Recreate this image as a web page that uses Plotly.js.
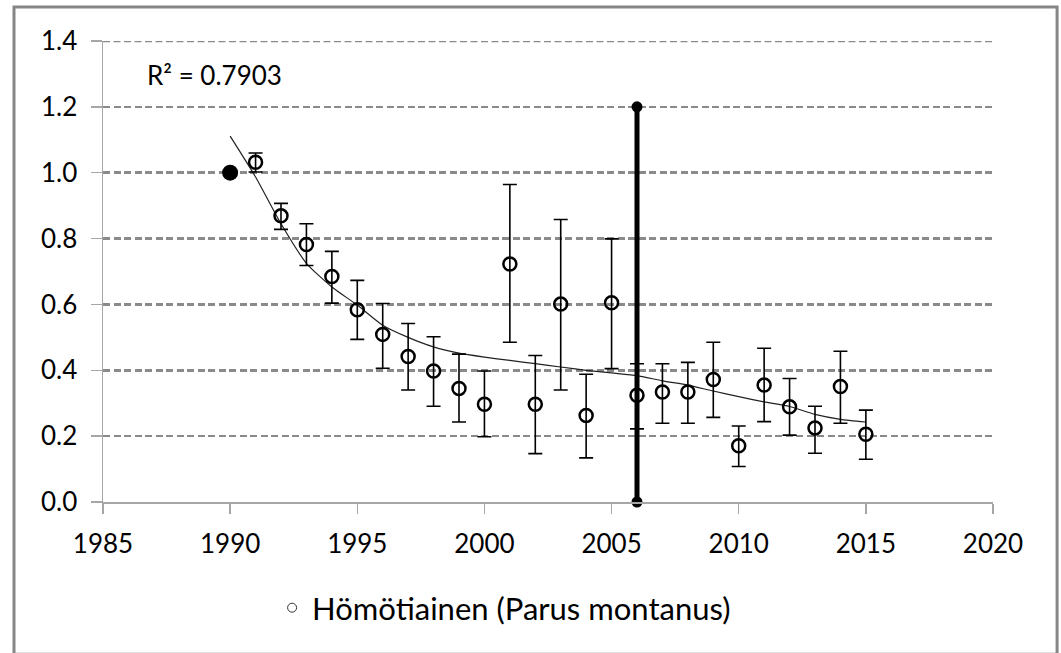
<!DOCTYPE html>
<html>
<head>
<meta charset="utf-8">
<script src="https://cdn.plot.ly/plotly-3.0.1.min.js"></script>
<style>
  html, body { margin: 0; padding: 0; background: #fff; }
  #chart { width: 1061px; height: 653px; }
</style>
</head>
<body>
<div id="chart"></div>
<script>
// ---- Data ----
const years      = [1991, 1992, 1993, 1994, 1995, 1996, 1997, 1998, 1999, 2000, 2001, 2002, 2003, 2004, 2005, 2006, 2007, 2008, 2009, 2010, 2011, 2012, 2013, 2014, 2015];
const index      = [1.032, 0.869, 0.782, 0.685, 0.584, 0.509, 0.442, 0.398, 0.345, 0.297, 0.723, 0.297, 0.601, 0.263, 0.605, 0.324, 0.334, 0.334, 0.372, 0.171, 0.355, 0.289, 0.225, 0.351, 0.206];
const upper      = [1.060, 0.907, 0.845, 0.761, 0.673, 0.603, 0.542, 0.502, 0.449, 0.398, 0.964, 0.445, 0.858, 0.388, 0.799, 0.420, 0.420, 0.424, 0.485, 0.231, 0.467, 0.375, 0.291, 0.458, 0.279];
const lower      = [1.002, 0.828, 0.718, 0.604, 0.494, 0.406, 0.340, 0.291, 0.243, 0.198, 0.485, 0.147, 0.340, 0.134, 0.405, 0.222, 0.239, 0.239, 0.257, 0.108, 0.244, 0.203, 0.148, 0.239, 0.130];

const baseYear   = [1990];
const baseValue  = [1.0];

const trendYears = [1990, 1991, 1992, 1993, 1994, 1995, 1996, 1997, 1998, 1999, 2000, 2001, 2002, 2003, 2004, 2005, 2006, 2007, 2008, 2009, 2010, 2011, 2012, 2013, 2014, 2015];
const trendVals  = [1.111, 0.987, 0.845, 0.725, 0.653, 0.598, 0.537, 0.500, 0.471, 0.452, 0.440, 0.430, 0.420, 0.410, 0.400, 0.392, 0.384, 0.368, 0.355, 0.337, 0.320, 0.304, 0.290, 0.266, 0.251, 0.243];

const markerYear = [2006, 2006];
const markerSpan = [0, 1.2];

const seriesName = 'Hömötiainen (Parus montanus)';
const r2Text     = 'R² = 0.7903';
const xTicks     = [1985, 1990, 1995, 2000, 2005, 2010, 2015, 2020];
const yTicks     = [0, 0.2, 0.4, 0.6, 0.8, 1.0, 1.2, 1.4];

const errPlus  = upper.map((u, i) => u - index[i]);
const errMinus = lower.map((l, i) => index[i] - l);

const FONT = 'Lato, "Open Sans", sans-serif';
const AXIS = '#a6a6a6';
const GRID = '#8a8a8a';
const GRIDDASH = '7px,3.5px';
const yTop = yTicks[yTicks.length - 1];

const traces = [
  {
    x: trendYears, y: trendVals, type: 'scatter', mode: 'lines',
    line: { color: '#222', width: 1.2, shape: 'spline', smoothing: 0.6 },
    showlegend: false, hoverinfo: 'skip'
  },
  {
    x: markerYear, y: markerSpan, type: 'scatter', mode: 'lines+markers',
    line: { color: '#000', width: 5 },
    marker: { color: '#000', size: 11, symbol: 'circle' },
    cliponaxis: false,
    showlegend: false
  },
  {
    x: years, y: index, type: 'scatter', mode: 'markers', name: seriesName,
    marker: { symbol: 'circle-open', size: 13, color: '#000', line: { color: '#000', width: 2.5 } },
    error_y: { type: 'data', symmetric: false, array: errPlus, arrayminus: errMinus,
               color: '#000', thickness: 1.6, width: 7 },
    showlegend: false
  },
  {
    x: baseYear, y: baseValue, type: 'scatter', mode: 'markers',
    marker: { symbol: 'circle', size: 16, color: '#000' },
    showlegend: false
  },
  {
    x: [null], y: [null], type: 'scatter', mode: 'markers', name: seriesName,
    marker: { symbol: 'circle-open', size: 9, color: '#333', line: { color: '#333', width: 1 } },
    showlegend: true
  }
];

const layout = {
  width: 1061, height: 653,
  margin: { l: 103, r: 68, t: 41, b: 151 },
  paper_bgcolor: '#fff', plot_bgcolor: '#fff',
  font: { family: FONT, size: 26, color: '#000' },
  showlegend: true,
  xaxis: {
    range: [1985, 2020], tickvals: xTicks, ticktext: xTicks.map(String),
    showgrid: false, zeroline: false,
    showline: true, linecolor: AXIS, linewidth: 1.5,
    ticks: 'outside', ticklen: 10, tickwidth: 1.5, tickcolor: AXIS,
    ticklabelstandoff: 8,
    tickfont: { family: FONT, size: 26, color: '#000' }
  },
  yaxis: {
    range: [0, yTop], tickvals: yTicks, tickformat: '.1f',
    showgrid: true, gridcolor: GRID, gridwidth: 2.5, griddash: GRIDDASH,
    zeroline: false,
    showline: true, linecolor: AXIS, linewidth: 1.5,
    ticks: 'outside', ticklen: 11, tickwidth: 1.5, tickcolor: AXIS,
    ticklabelstandoff: 8,
    tickfont: { family: FONT, size: 26, color: '#000' }
  },
  legend: {
    orientation: 'h', x: 0.19, xanchor: 'left', y: -0.23, yanchor: 'middle',
    font: { family: FONT, size: 31, color: '#000' },
    bgcolor: 'rgba(0,0,0,0)'
  },
  annotations: [
    { text: r2Text, xref: 'paper', yref: 'paper', x: 0.047, y: 0.927,
      xanchor: 'left', yanchor: 'middle', showarrow: false,
      font: { family: FONT, size: 26, color: '#000' } }
  ],
  shapes: [
    { type: 'rect', xref: 'paper', yref: 'paper', x0: -0.1, x1: 1.072, y0: -0.33, y1: 1.074,
      line: { color: '#868686', width: 3 }, fillcolor: 'rgba(0,0,0,0)', layer: 'below' },
    { type: 'line', xref: 'paper', yref: 'y', x0: 0, x1: 1, y0: yTop, y1: yTop,
      line: { color: GRID, width: 2.5, dash: GRIDDASH }, layer: 'below' }
  ]
};

Plotly.newPlot('chart', traces, layout, { displayModeBar: false, staticPlot: true });
</script>
</body>
</html>
